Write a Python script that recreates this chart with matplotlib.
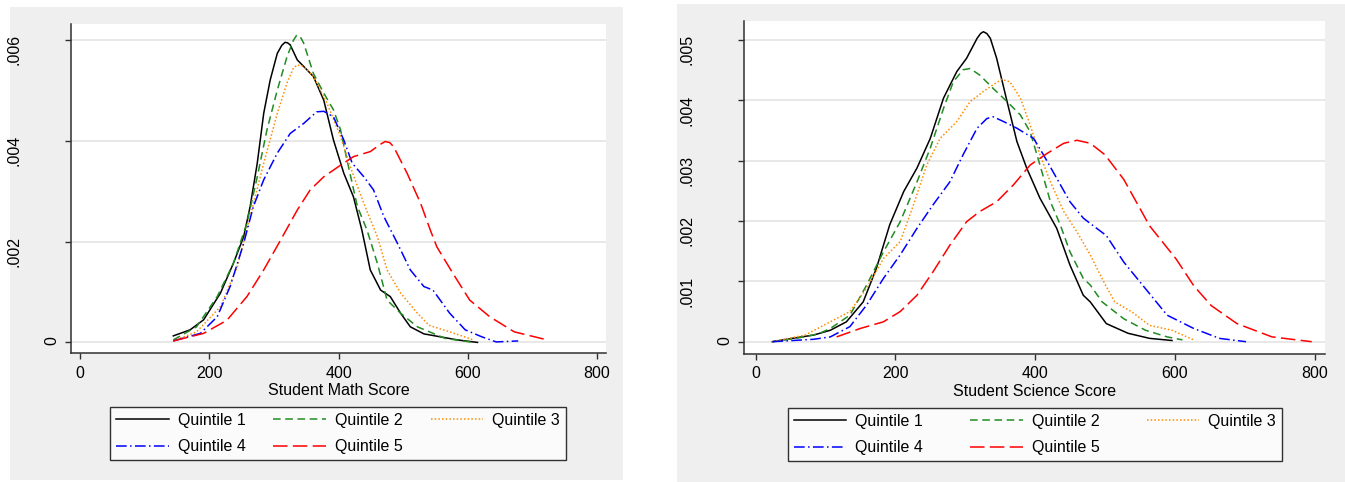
import matplotlib
matplotlib.use('Agg')
import matplotlib.pyplot as plt
from matplotlib.patches import Rectangle

plt.rcParams['font.family'] = ['Liberation Sans', 'DejaVu Sans']
plt.rcParams['font.size'] = 11.5

# 범례 / 색 / 선 모양
labels = ['Quintile 1', 'Quintile 2', 'Quintile 3', 'Quintile 4', 'Quintile 5']
colors = ['black', '#228b22', '#ff8c00', '#0000ff', '#ff0000']
styles = ['-', (0, (5, 3)), (0, (1, 1.4)), (0, (7, 2.2, 1, 2.2)), (0, (9.5, 3.5))]
legend_order = [0, 3, 1, 4, 2]  # 행 우선으로 보이게 (matplotlib는 열 우선으로 채움)

# 수학 점수 밀도 (왼쪽 그림)
math_q1_x = [144, 170, 191, 217, 237, 253, 263, 274, 284, 294, 305, 312, 317, 321, 325, 336, 346, 361,
             377, 392, 408, 423, 436, 449, 465, 480, 496, 511, 532, 558, 584, 615]
math_q1_y = [0.00013, 0.00025, 0.00045, 0.00098, 0.00157, 0.0021, 0.0027, 0.00356, 0.00455, 0.00521,
             0.00574, 0.0059, 0.00596, 0.00595, 0.00591, 0.00561, 0.00548, 0.00528, 0.00481, 0.00402,
             0.00336, 0.00289, 0.00223, 0.00144, 0.00104, 0.00091, 0.00058, 0.00031, 0.00017, 0.00011,
             0.00005, 0.0]
math_q2_x = [144, 180, 212, 237, 258, 274, 289, 305, 320, 330, 335, 338, 342, 346, 361, 377, 392, 403,
             413, 429, 444, 460, 475, 496, 522, 565, 609]
math_q2_y = [0.00005, 0.00031, 0.00091, 0.00157, 0.00237, 0.00329, 0.00422, 0.00501, 0.00567, 0.006,
             0.0061, 0.0061, 0.00604, 0.00594, 0.00534, 0.00495, 0.00462, 0.00422, 0.00362, 0.0027,
             0.00223, 0.00157, 0.00084, 0.00058, 0.00031, 0.00008, 0.0]
math_q3_x = [144, 180, 217, 243, 263, 284, 305, 320, 330, 336, 346, 361, 382, 403, 418, 439, 460,
             475, 496, 522, 540, 572, 609]
math_q3_y = [0.00003, 0.00021, 0.00071, 0.0015, 0.0025, 0.00356, 0.00455, 0.00515, 0.00545, 0.00551,
             0.00548, 0.00528, 0.00475, 0.00409, 0.00349, 0.00276, 0.0021, 0.00144, 0.00098, 0.00058,
             0.00034, 0.00021, 0.00005]
math_q4_x = [144, 186, 212, 232, 253, 268, 284, 305, 325, 346, 366, 377, 392, 408, 421, 439,
             454, 470, 491, 511, 532, 546, 572, 596, 622, 644, 678]
math_q4_y = [0.00003, 0.00018, 0.00051, 0.00111, 0.00197, 0.0027, 0.00323, 0.00376, 0.00415, 0.00435,
             0.00458, 0.00459, 0.00448, 0.00402, 0.00356, 0.00329, 0.00303, 0.0025, 0.00197, 0.00144,
             0.00111, 0.00104, 0.00058, 0.00025, 0.00011, 0.00001, 0.00003]
math_q5_x = [144, 191, 227, 258, 284, 310, 336, 356, 377, 403, 423, 449, 464, 472, 479, 485, 506, 527,
             542, 552, 577, 603, 634, 672, 723]
math_q5_y = [0.00003, 0.00018, 0.00044, 0.00091, 0.00144, 0.00203, 0.00263, 0.00303, 0.00329, 0.00352,
             0.00369, 0.00379, 0.00393, 0.00399, 0.00397, 0.00389, 0.00336, 0.00276, 0.00223, 0.0019,
             0.00137, 0.00084, 0.00051, 0.00021, 0.00005]

# 과학 점수 밀도 (오른쪽 그림)
sci_q1_x = [24, 52, 83, 107, 130, 154, 173, 192, 212, 231, 250, 269, 288, 302, 317, 322, 326, 331, 336,
            345, 360, 374, 388, 407, 431, 450, 469, 479, 502, 533, 564, 596]
sci_q1_y = [0.0, 0.000055, 0.00011, 0.00019, 0.00033, 0.00066, 0.00122, 0.00194, 0.00249, 0.00288,
            0.00337, 0.00404, 0.00448, 0.0047, 0.00503, 0.00511, 0.00514, 0.00511, 0.00503, 0.0047,
            0.00398, 0.00332, 0.00288, 0.00238, 0.00188, 0.00127, 0.00077, 0.00066, 0.0003, 0.00014,
            0.000055, 0.00002]
sci_q2_x = [24, 60, 90, 107, 135, 159, 183, 207, 231, 250, 269, 283, 297, 307, 321, 340, 360,
            379, 393, 407, 422, 436, 450, 469, 479, 496, 527, 558, 589, 611]
sci_q2_y = [0.0, 0.00006, 0.00013, 0.00022, 0.00044, 0.00094, 0.00149, 0.00199, 0.00265, 0.00321,
            0.00387, 0.00431, 0.00451, 0.00453, 0.00442, 0.0042, 0.00398, 0.00376, 0.00348, 0.00293,
            0.00232, 0.00194, 0.00149, 0.00105, 0.00094, 0.00066, 0.00038, 0.00019, 0.00008, 0.00003]
sci_q3_x = [24, 71, 107, 135, 159, 183, 207, 226, 245, 264, 288, 307, 326, 340, 352, 364, 379,
            393, 407, 422, 441, 460, 479, 498, 514, 539, 564, 596, 627]
sci_q3_y = [0.0, 0.00011, 0.00033, 0.0005, 0.00089, 0.00138, 0.00166, 0.00227, 0.00293, 0.00337,
            0.00365, 0.00398, 0.00415, 0.00426, 0.00435, 0.00431, 0.00404, 0.00359, 0.0031, 0.00265,
            0.00216, 0.00182, 0.00144, 0.001, 0.00066, 0.00049, 0.00027, 0.00019, 0.00003]
sci_q4_x = [24, 83, 107, 135, 159, 183, 207, 231, 254, 278, 297, 317, 331, 340, 355, 374, 398,
            412, 431, 450, 469, 479, 502, 527, 558, 589, 627, 664, 702]
sci_q4_y = [0.0, 0.00004, 0.00008, 0.00025, 0.00061, 0.00105, 0.00144, 0.00188, 0.00227, 0.00265,
            0.0031, 0.00354, 0.0037, 0.00373, 0.00365, 0.00354, 0.00337, 0.0031, 0.00271, 0.00232,
            0.00205, 0.00196, 0.00176, 0.00132, 0.00088, 0.00044, 0.00022, 0.000055, 0.0]
sci_q5_x = [116, 150, 183, 207, 231, 254, 278, 302, 321, 345, 369, 393, 417, 441, 460, 479,
            500, 527, 564, 602, 627, 652, 689, 739, 796]
sci_q5_y = [0.00008, 0.00022, 0.00033, 0.0005, 0.00077, 0.00116, 0.0016, 0.00199, 0.00216, 0.00232,
            0.0026, 0.00293, 0.00312, 0.00329, 0.00334, 0.00329, 0.0031, 0.00269, 0.00192, 0.00137,
            0.00093, 0.0006, 0.0003, 0.00008, 0.0]

math_xs = [math_q1_x, math_q2_x, math_q3_x, math_q4_x, math_q5_x]
math_ys = [math_q1_y, math_q2_y, math_q3_y, math_q4_y, math_q5_y]
sci_xs = [sci_q1_x, sci_q2_x, sci_q3_x, sci_q4_x, sci_q5_x]
sci_ys = [sci_q1_y, sci_q2_y, sci_q3_y, sci_q4_y, sci_q5_y]

x_ticks = [0, 200, 400, 600, 800]
math_yticks = [0, 0.002, 0.004, 0.006]
math_ylabels = ['0', '.002', '.004', '.006']
sci_yticks = [0, 0.001, 0.002, 0.003, 0.004, 0.005]
sci_ylabels = ['0', '.001', '.002', '.003', '.004', '.005']

W, H = 1345, 482
fig = plt.figure(figsize=(W / 100, H / 100), dpi=100)
fig.patch.set_facecolor('white')

# 회색 배경 (stata 스타일) - 축보다 아래에 그려야 함
fig.patches.append(Rectangle((10 / W, 2 / H), 613 / W, 473 / H, transform=fig.transFigure,
                             facecolor='#efefef', edgecolor='none', zorder=-5))
fig.patches.append(Rectangle((677 / W, 0), 668 / W, 478 / H, transform=fig.transFigure,
                             facecolor='#efefef', edgecolor='none', zorder=-5))


def panel(rect, xs, ys, yticks, ylabels, ylim, xlim, xlabel, leg_box):
    ax = fig.add_axes(rect)
    ax.set_facecolor('white')
    lines = []
    for x, y, c, s, lab in zip(xs, ys, colors, styles, labels):
        ln, = ax.plot(x, y, color=c, linestyle=s, lw=1.1, label=lab)
        lines.append(ln)
    ax.set_xlim(xlim)
    ax.set_ylim(ylim)
    ax.set_xticks(x_ticks)
    ax.set_yticks(yticks)
    ax.set_yticklabels(ylabels, rotation=90)
    ax.grid(axis='y', color='#e4e4e4', lw=1.2)
    ax.set_axisbelow(True)
    for sp in ['top', 'right']:
        ax.spines[sp].set_visible(False)
    for sp in ['left', 'bottom']:
        ax.spines[sp].set_color('#303030')
        ax.spines[sp].set_linewidth(1.1)
    ax.tick_params(axis='x', length=4.5, width=1, color='#303030', pad=4.5, labelsize=11.5)
    ax.tick_params(axis='y', length=4.5, width=1, color='#303030', labelsize=11.5)
    # 0 만 축에 가깝게
    for t, lab in zip(ax.yaxis.get_major_ticks(), ylabels):
        t.set_pad(4 if lab == '0' else 31)
    ax.set_xlabel(xlabel, fontsize=11.5, labelpad=1.5)
    hs = [lines[i] for i in legend_order]
    ls = [labels[i] for i in legend_order]
    leg = ax.legend(hs, ls, loc='upper left', bbox_to_anchor=leg_box, bbox_transform=fig.transFigure,
                    mode='expand', ncol=3, fontsize=11.5, frameon=True, fancybox=False,
                    edgecolor='black', borderaxespad=0, handlelength=3.3, handletextpad=0.55,
                    columnspacing=1.2, labelspacing=0.7, borderpad=0.38)
    leg.get_frame().set_linewidth(1.0)
    return ax


panel([71 / W, 129 / H, 535 / W, 329 / H], math_xs, math_ys, math_yticks, math_ylabels,
      (-0.00021, 0.006324), (-14.4, 814), 'Student Math Score',
      (110 / W, 1 - 460 / H, 456 / W, 53 / H))
panel([744 / W, 128 / H, 581 / W, 333 / H], sci_xs, sci_ys, sci_yticks, sci_ylabels,
      (-0.000204, 0.005318), (-16.6, 815), 'Student Science Score',
      (787.5 / W, 1 - 463 / H, 494.5 / W, 55 / H))

fig.savefig('out.png', dpi=100)
